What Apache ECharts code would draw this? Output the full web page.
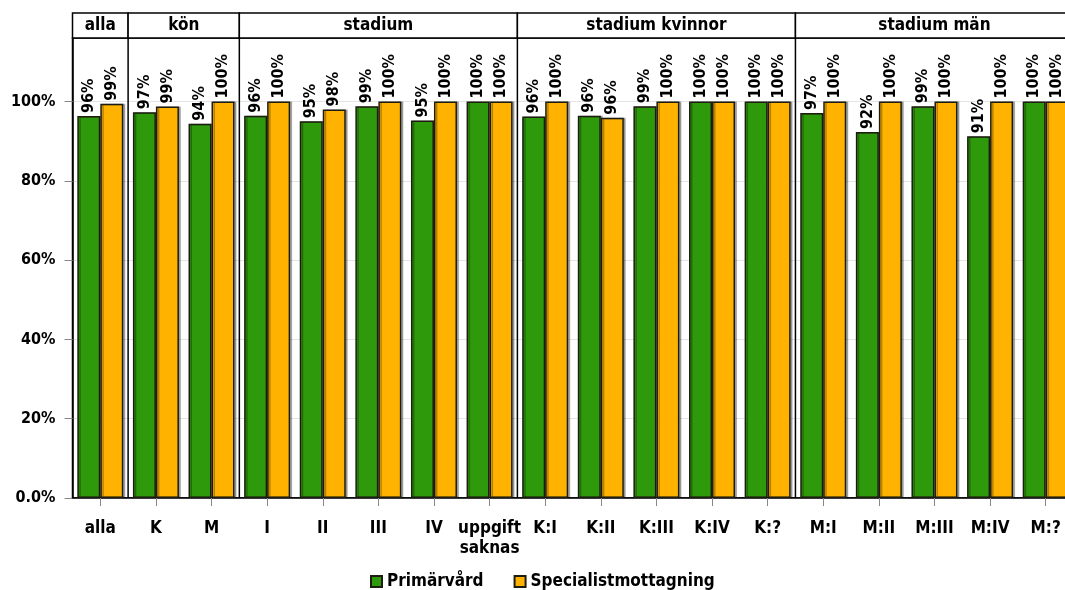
<!DOCTYPE html>
<html>
<head>
<meta charset="utf-8">
<script src="https://cdn.jsdelivr.net/npm/echarts@6/dist/echarts.min.js"></script>
<style>
html,body{margin:0;padding:0;background:#fff;}
#chart{width:1065px;height:590px;}
</style>
</head>
<body>
<div id="chart"></div>
<script>
// ---- data ----
const categories = ['alla','K','M','I','II','III','IV','uppgift\nsaknas','K:I','K:II','K:III','K:IV','K:?','M:I','M:II','M:III','M:IV','M:?'];
const primarvard = [96.3, 97.3, 94.4, 96.4, 95.0, 98.8, 95.2, 100, 96.2, 96.4, 98.8, 100, 100, 97.1, 92.3, 98.8, 91.2, 100];
const specialist = [99.4, 98.7, 100, 100, 98.0, 100, 100, 100, 100, 95.9, 100, 100, 100, 100, 100, 100, 100, 100];
const groupNames = ['alla','kön','stadium','stadium kvinnor','stadium män'];
const groupSizes = [1, 2, 5, 5, 5];
const yTicks = [0, 20, 40, 60, 80, 100];
const seriesNames = ['Primärvård','Specialistmottagning'];

// ---- build ----
const FONT = '"DejaVu Sans Condensed", "Liberation Sans", sans-serif';
const groupData = [];
let acc = 0;
groupSizes.forEach((n, i) => { groupData.push([acc, acc + n, i]); acc += n; });

const chart = echarts.init(document.getElementById('chart'), null, {renderer: 'canvas'});

const barLabel = {
  show: true,
  position: 'top',
  rotate: 90,
  align: 'left',
  verticalAlign: 'middle',
  distance: 3,
  color: '#000',
  fontFamily: FONT,
  fontWeight: 'bold',
  fontSize: 16,
  formatter: p => Math.round(p.value) + '%'
};

function barItem(color) {
  return {
    color: color,
    borderColor: '#1c1c10',
    borderWidth: 1.5,
    shadowColor: 'rgba(0,0,0,0.28)',
    shadowOffsetX: 2,
    shadowOffsetY: 0,
    shadowBlur: 0
  };
}

const option = {
  backgroundColor: '#fff',
  animation: false,
  grid: {left: 72.5, top: 38, width: 1001, height: 460, show: true, borderColor: '#000', borderWidth: 1.5,
         containLabel: false, outerBoundsMode: 'none'},
  legend: {
    data: seriesNames,
    left: 370,
    top: 573,
    padding: 0,
    itemWidth: 11,
    itemHeight: 11,
    itemGap: 30,
    icon: 'rect',
    textStyle: {fontFamily: FONT, fontWeight: 'bold', fontSize: 17, color: '#000'}
  },
  xAxis: [
    {
      type: 'category',
      data: categories,
      axisLine: {show: true, lineStyle: {color: '#000', width: 1.5}},
      axisTick: {show: true, alignWithLabel: true, length: 8, lineStyle: {color: '#888'}},
      axisLabel: {margin: 21, color: '#000', fontFamily: FONT, fontWeight: 'bold', fontSize: 17, lineHeight: 20, interval: 0},
      splitLine: {show: false}
    },
    {
      type: 'value', min: 0, max: categories.length, show: false,
      splitLine: {show: false}
    }
  ],
  yAxis: {
    type: 'value',
    min: 0,
    max: 116,
    axisLine: {show: true, lineStyle: {color: '#000', width: 1.5}},
    axisTick: {show: true, length: 8, lineStyle: {color: '#888'}, customValues: yTicks},
    axisLabel: {
      margin: 17, color: '#000', fontFamily: FONT, fontWeight: 'bold', fontSize: 16,
      customValues: yTicks,
      formatter: v => (v === 0 ? '0.0%' : v + '%')
    },
    splitLine: {show: true, lineStyle: {color: '#e4e4e4', width: 1}},
    interval: 20
  },
  series: [
    {
      name: seriesNames[0], type: 'bar', data: primarvard,
      barWidth: 23, barGap: '0%',
      itemStyle: barItem('#2f990c'),
      label: barLabel,
      z: 2
    },
    {
      name: seriesNames[1], type: 'bar', data: specialist,
      barWidth: 23, barGap: '0%',
      itemStyle: barItem('#ffb300'),
      label: barLabel,
      z: 2
    },
    {
      type: 'custom',
      xAxisIndex: 1,
      yAxisIndex: 0,
      data: groupData,
      encode: {x: [0, 1]},
      clip: false,
      silent: true,
      z: 10,
      renderItem: function (params, api) {
        const s = api.value(0), e = api.value(1);
        const p0 = api.coord([s, 0]);
        const p1 = api.coord([e, 0]);
        const cs = params.coordSys;
        const hh = 25;
        const children = [
          {type: 'rect', shape: {x: p0[0], y: cs.y - hh, width: p1[0] - p0[0], height: hh},
           style: {fill: '#fff', stroke: '#000', lineWidth: 1.5}},
          {type: 'text', style: {text: groupNames[params.dataIndex], x: (p0[0] + p1[0]) / 2, y: cs.y - hh / 2,
            align: 'center', verticalAlign: 'middle', fontFamily: FONT, fontWeight: 'bold', fontSize: 17, fill: '#000'}}
        ];
        if (s > 0) {
          children.push({type: 'line', shape: {x1: p0[0], y1: cs.y, x2: p0[0], y2: cs.y + cs.height},
            style: {stroke: '#000', lineWidth: 1.5}});
        }
        return {type: 'group', children: children};
      }
    }
  ]
};
chart.setOption(option);
</script>
</body>
</html>
